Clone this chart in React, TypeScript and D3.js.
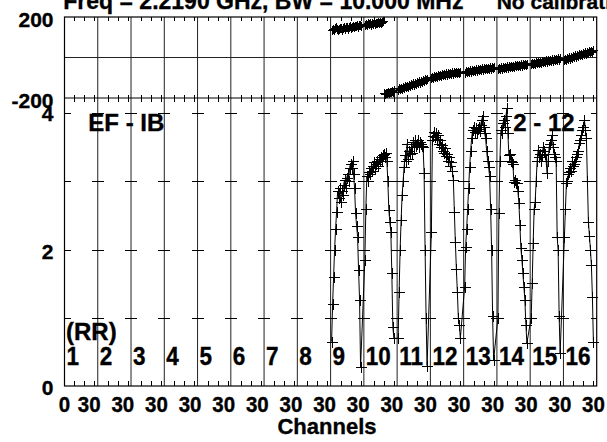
import React from "react";
import * as d3 from "d3";

// ---- data ----
const PANEL_LABELS = ["1","2","3","4","5","6","7","8","9","10","11","12","13","14","15","16"];
const CH_TICKS = [10, 20, 30];
const AMP_TICKS = [1, 2, 3, 4];
const AMP_LABELS = [0, 2, 4];
const PH_LABELS = [-200, 200];
const X_LABEL_FIRST = "0";
const X_LABEL_REPEAT = "30";
const FIRST_CH = 1;

// amplitude per active panel, channels 1..30
const amp9 = [0.65,1.2,1.6,2.0,2.3,2.55,2.85,2.75,2.9,2.7,2.85,2.8,2.95,3.02,2.9,3.05,3.1,3.0,3.2,3.26,3.2,3.3,3.1,2.9,2.53,2.35,2.19,1.7,1.26,0.28];
const amp10 = [1.85,2.6,3.07,3.0,3.13,3.1,3.2,3.15,3.22,3.28,3.2,3.25,3.3,3.22,3.32,3.3,3.36,3.3,3.38,3.4,3.35,3.42,3.3,3.0,2.58,2.4,2.26,1.65,0.87,0.7];
const amp11 = [0.7,1.38,2.0,2.43,2.8,3.0,3.21,3.38,3.3,3.55,3.33,3.45,3.4,3.5,3.42,3.58,3.5,3.6,3.52,3.55,3.6,3.5,3.58,3.55,3.52,3.5,3.12,2.0,1.0,0.3];
const amp12 = [2.26,3.6,3.67,3.72,3.65,3.7,3.62,3.68,3.55,3.6,3.5,3.53,3.45,3.42,3.48,3.37,3.4,3.3,3.35,3.22,3.28,3.15,3.02,2.55,2.11,1.72,1.38,1.0,0.9,0.7];
const amp13 = [1.45,2.04,2.3,2.6,2.9,3.21,3.45,3.63,3.75,3.8,3.72,3.78,3.7,3.76,3.8,3.74,3.82,3.9,3.95,3.8,3.7,3.63,3.45,3.3,3.21,3.07,2.6,1.99,1.02,0.38];
const amp14 = [1.0,2.53,3.3,3.75,3.7,3.85,3.9,3.8,3.95,4.07,3.7,3.38,3.4,3.3,3.28,3.25,2.99,3.02,2.98,2.97,2.85,2.68,2.36,2.02,1.85,1.65,1.45,1.26,0.9,0.63];
const amp15 = [1.0,1.51,2.1,2.6,2.7,3.0,3.3,3.46,3.35,3.4,3.3,3.38,3.5,3.45,3.4,3.29,3.12,3.3,3.5,3.55,3.6,3.68,3.5,3.4,3.35,3.3,2.19,1.99,1.02,0.48];
const amp16 = [2.19,2.6,2.97,3.0,3.1,3.14,3.2,3.15,3.3,3.22,3.25,3.3,3.35,3.4,3.45,3.56,3.6,3.68,3.75,3.8,3.9,3.75,3.63,3.0,2.41,2.2,2.0,1.77,1.31,0.65];

// phase per active panel, channels 1..30 (degrees)
const ph9 = [138,142,136,145,150,140,134,141,148,146,138,144,150,143,152,149,142,151,156,148,153,158,150,157,154,161,153,159,162,156];
const ph10 = [160,166,159,168,163,170,162,169,166,173,165,172,168,175,170,177,169,174,178,-176,-180,-173,-177,-170,-175,-168,-172,-165,-170,-162];
const ph11 = [-160,-153,-158,-150,-155,-146,-151,-142,-147,-139,-144,-136,-141,-132,-138,-128,-134,-125,-131,-121,-127,-118,-124,-114,-120,-111,-116,-108,-112,-104];
const ph12 = [-100,-94,-99,-91,-97,-89,-94,-86,-92,-84,-90,-82,-88,-80,-86,-79,-84,-77,-82,-76,-81,-74,-80,-73,-78,-72,-77,-71,-76,-70];
const ph13 = [-76,-69,-74,-66,-72,-64,-70,-62,-68,-61,-66,-59,-65,-57,-63,-56,-62,-54,-60,-53,-59,-51,-57,-50,-56,-49,-55,-48,-53,-47];
const ph14 = [-58,-51,-56,-49,-55,-47,-53,-46,-52,-44,-50,-43,-49,-41,-47,-40,-46,-38,-44,-37,-43,-35,-41,-34,-40,-33,-38,-31,-37,-30];
const ph15 = [-34,-27,-32,-25,-30,-23,-29,-21,-27,-20,-26,-18,-24,-16,-22,-14,-20,-13,-19,-11,-17,-9,-15,-8,-14,-6,-12,-4,-10,-3];
const ph16 = [-12,-5,-10,-2,-8,1,-5,4,-2,7,1,10,4,13,7,16,10,19,13,22,16,25,19,28,22,31,25,33,28,36];

const AMP_BY_PANEL = [null,null,null,null,null,null,null,null,amp9,amp10,amp11,amp12,amp13,amp14,amp15,amp16];
const PH_BY_PANEL = [null,null,null,null,null,null,null,null,ph9,ph10,ph11,ph12,ph13,ph14,ph15,ph16];

const TITLE = "Freq = 2.2190 GHz, BW = 10.000 MHz";
const TITLE2 = "No calibration";
const SOURCE = "EF - IB";
const BASELINE = "2 - 12";
const POL = "(RR)";
const X_TITLE = "Channels";

type Pt = { p: number; ch: number; v: number };

export default function App() {
  const W = 607, H = 442;
  const L = 64.5, R = 596.7, T = 17, M = 98, B = 386;
  const font = "'Liberation Sans', Arial, Helvetica, sans-serif";
  const nP = PANEL_LABELS.length;
  const xPanel = d3.scaleLinear().domain([0, nP]).range([L, R]);
  const pw = (R - L) / nP;
  const xCh = d3.scaleLinear().domain([0, 33.3]).range([0, pw]);
  const x = (p: number, ch: number) => xPanel(p) + xCh(ch);
  const yPh = d3.scaleLinear().domain([-200, 200]).range([M, T]);
  const yAmp = d3.scaleLinear().domain([0, 4]).range([B, 113]);
  const xLab = d3.scaleLinear().domain([0, nP - 1]).range([89.2, 593.5]);

  const ampPts: Pt[] = [];
  AMP_BY_PANEL.forEach((arr, p) => {
    if (!arr) return;
    arr.forEach((v, i) => ampPts.push({ p, ch: FIRST_CH + i, v }));
  });
  const phPts: Pt[] = [];
  PH_BY_PANEL.forEach((arr, p) => {
    if (!arr) return;
    arr.forEach((v, i) => phPts.push({ p, ch: FIRST_CH + i, v }));
  });
  const phSegs: Pt[][] = [];
  phPts.forEach((pt, i) => {
    if (i === 0 || Math.abs(pt.v - phPts[i - 1].v) > 180) phSegs.push([]);
    phSegs[phSegs.length - 1].push(pt);
  });

  const ampLine = d3.line<Pt>().x(d => x(d.p, d.ch)).y(d => yAmp(d.v));
  const phLine = d3.line<Pt>().x(d => x(d.p, d.ch)).y(d => yPh(d.v));

  const r = (v: number) => Math.round(v) + 0.5;
  const mk = (cx: number, cy: number, s: number) =>
    `M${r(cx) - s},${r(cy)}H${r(cx) + s}M${r(cx)},${r(cy) - s}V${r(cy) + s}`;
  const ampMarks = ampPts.map(d => mk(x(d.p, d.ch), yAmp(d.v), 5.5)).join("");
  const phMarks = phPts.map(d => mk(x(d.p, d.ch), yPh(d.v), 4.5)).join("");

  // ticks
  let tickPath = "";
  for (let p = 0; p < nP; p++) {
    CH_TICKS.forEach(c => {
      const tx = r(x(p, c));
      tickPath += `M${tx},${T}V${T + 4}`;
      tickPath += `M${tx},${M - 3.5}V${M + 3.5}`;
      tickPath += `M${tx},${B}V${B - 5}`;
    });
  }
  for (let p = 0; p <= nP; p++) {
    const dx = xPanel(p);
    AMP_TICKS.forEach(a => {
      const ty = r(yAmp(a));
      const x0 = p === 0 ? dx : dx - 6;
      const x1 = p === nP ? dx : dx + 6;
      tickPath += `M${x0},${ty}H${x1}`;
    });
  }
  let divPath = "";
  for (let p = 1; p < nP; p++) {
    const dx = xPanel(p);
    divPath += `M${dx},${T}V${B}`;
  }

  const lab = { fontFamily: font, fontWeight: 700 as const, fill: "#000", stroke: "#000", strokeWidth: 0.35 };

  return (
    <svg width={W} height={H} style={{ position: "absolute", left: 0, top: 0, background: "#fff" }}>
      <rect x={0} y={0} width={W} height={H} fill="#fff" />
      <text x={63.3} y={8.5} fontSize={23} {...lab}>{TITLE}</text>
      <text x={496.7} y={8.5} fontSize={21} {...lab}>{TITLE2}</text>

      <path d={divPath} stroke="#222" strokeWidth={1} fill="none" />
      <line x1={L} x2={R} y1={yPh(0)} y2={yPh(0)} stroke="#222" strokeWidth={1} />
      <rect x={L} y={T} width={R - L} height={B - T} fill="none" stroke="#000" strokeWidth={1.2} />
      <line x1={L} x2={R} y1={M} y2={M} stroke="#000" strokeWidth={1.2} />
      <path d={tickPath} stroke="#000" strokeWidth={1} fill="none" shapeRendering="crispEdges" />

      {phSegs.map((s, i) => (
        <path key={i} d={phLine(s) || ""} stroke="#000" strokeWidth={1.2} fill="none" />
      ))}
      <path d={phMarks} stroke="#000" strokeWidth={1} fill="none" shapeRendering="crispEdges" />

      <path d={ampLine(ampPts) || ""} stroke="#000" strokeWidth={1} fill="none" />
      <path d={ampMarks} stroke="#000" strokeWidth={1} fill="none" shapeRendering="crispEdges" />

      {PH_LABELS.map(v => (
        <text key={"ph" + v} x={53.5} y={yPh(v) + 9.5} fontSize={21} textAnchor="end" {...lab}>{v}</text>
      ))}
      {AMP_LABELS.map(v => (
        <text key={"a" + v} x={53.5} y={yAmp(v) + (v === 4 ? 8 : 9)} fontSize={21} textAnchor="end" {...lab}>{v}</text>
      ))}

      <text x={88.3} y={130.7} fontSize={24} {...lab}>{SOURCE}</text>
      <text x={513.3} y={131} fontSize={24} {...lab}>{BASELINE}</text>
      <text x={66} y={340} fontSize={24} {...lab}>{POL}</text>

      {PANEL_LABELS.map((t, p) => (
        <text key={"pn" + t} transform={`translate(${xPanel(p) + 2},365) scale(1,1.12)`} fontSize={22.5} {...lab}>{t}</text>
      ))}

      <text transform={`translate(${xPanel(0)},411.7) scale(1,1.1)`} fontSize={20.5} textAnchor="middle" {...lab}>{X_LABEL_FIRST}</text>
      {PANEL_LABELS.map((t, p) => (
        <text key={"xl" + t} transform={`translate(${xLab(p)},411.7) scale(1,1.1)`} fontSize={20.5} textAnchor="middle" {...lab}>{X_LABEL_REPEAT}</text>
      ))}
      <text x={327} y={434} fontSize={22} textAnchor="middle" {...lab}>{X_TITLE}</text>
    </svg>
  );
}
